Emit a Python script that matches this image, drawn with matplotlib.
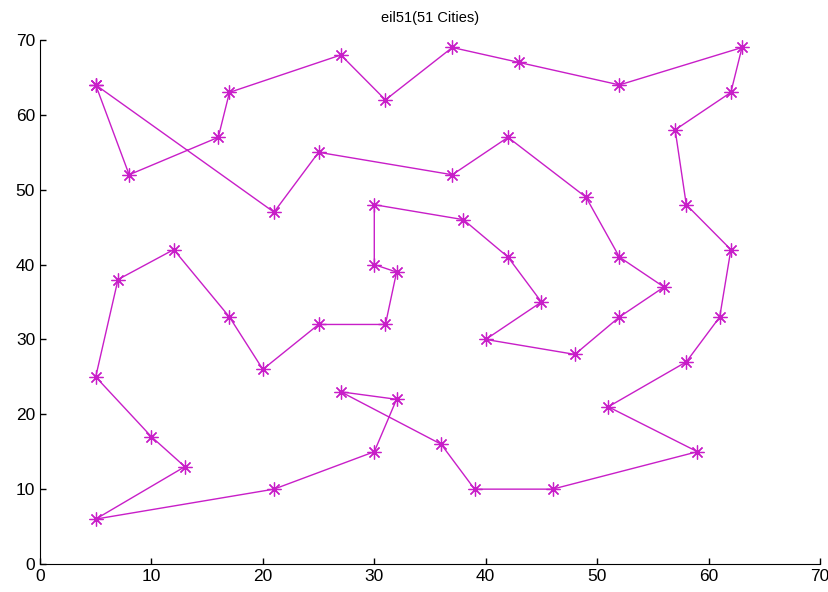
import numpy as np
import matplotlib.pyplot as plt

# eil51 tour in visiting order
tour_x = [5, 8, 16, 17, 27, 31, 37, 43, 52, 63, 62, 57, 58, 62, 61, 58, 51, 59, 46, 39,
          36, 27, 32, 30, 21, 5, 13, 10, 5, 7, 12, 17, 20, 25, 31, 32, 30, 30, 38, 42,
          45, 40, 48, 52, 56, 52, 49, 42, 37, 25, 21]
tour_y = [64, 52, 57, 63, 68, 62, 69, 67, 64, 69, 63, 58, 48, 42, 33, 27, 21, 15, 10, 10,
          16, 23, 22, 15, 10, 6, 13, 17, 25, 38, 42, 33, 26, 32, 32, 39, 40, 48, 46, 41,
          35, 30, 28, 33, 37, 41, 49, 57, 52, 55, 47]
ticks = [0, 10, 20, 30, 40, 50, 60, 70]

plt.rcParams['font.family'] = ['Liberation Sans', 'DejaVu Sans']

fig = plt.figure(figsize=(8.29, 5.92), dpi=100)
ax = fig.add_axes([40/829, 28/592, 780/829, 524/592])

# close the loop
xs = np.array(tour_x + tour_x[:1])
ys = np.array(tour_y + tour_y[:1])
clr = '#c81ec8'
ax.plot(xs, ys, '-', color=clr, lw=1.0)
# matlab style asterisk: 8 arms
ax.plot(xs, ys, linestyle='none', marker=(8, 2, 0), markersize=10,
        markeredgecolor=clr, markeredgewidth=0.9)

ax.set_xlim(0, 70)
ax.set_ylim(0, 70)
ax.set_xticks(ticks)
ax.set_yticks(ticks)
ax.tick_params(direction='in', length=4, labelsize=12.5, width=1)
ax.spines['top'].set_visible(False)
ax.spines['right'].set_visible(False)
ax.set_title('eil51(51 Cities)', fontsize=10.5, pad=13)

fig.savefig('out.png', dpi=100)
